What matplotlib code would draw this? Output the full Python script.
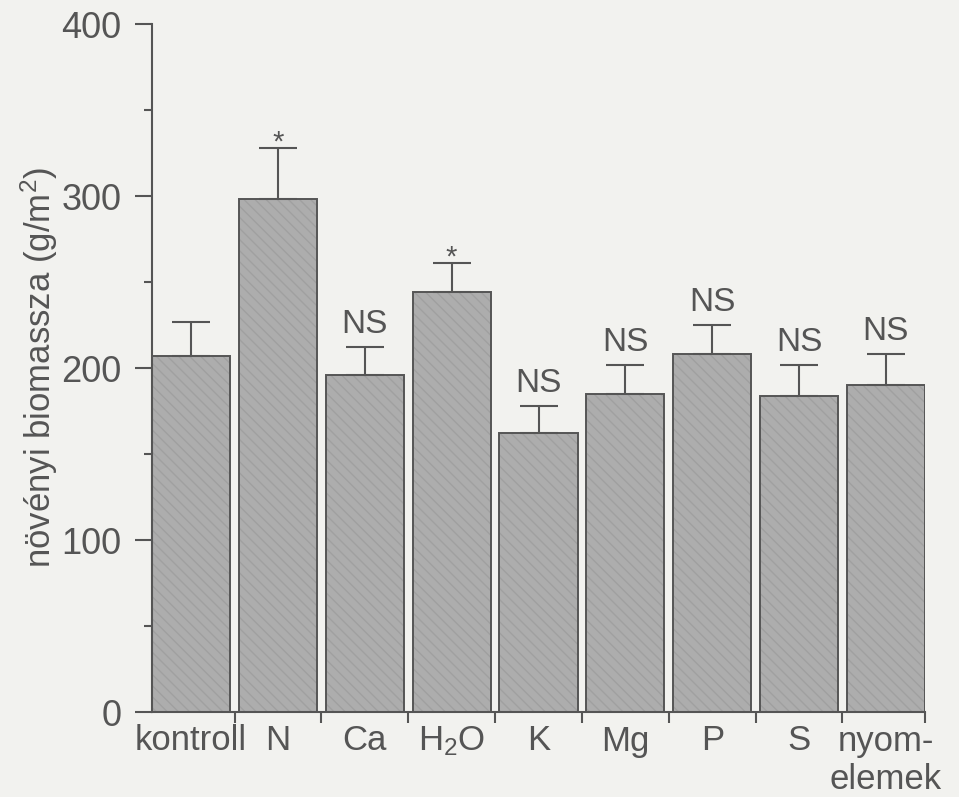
import numpy as np
import matplotlib
matplotlib.use("Agg")
import matplotlib.pyplot as plt
from matplotlib.ticker import MultipleLocator

plt.rcParams['font.family'] = ['Liberation Sans', 'DejaVu Sans']
plt.rcParams['mathtext.fontset'] = 'custom'
plt.rcParams['mathtext.rm'] = 'Liberation Sans'
plt.rcParams['mathtext.it'] = 'Liberation Sans:italic'

#########################
  # DATA
#########################

categories = ['kontroll', 'N', 'Ca', 'H$_2$O', 'K', 'Mg', 'P', 'S', 'nyom-\nelemek']
biomass = [207, 298, 196, 244, 162, 185, 208, 184, 190]
errors = [20, 30, 16, 17, 16, 17, 17, 18, 18]
marks = ['', '*', 'NS', '*', 'NS', 'NS', 'NS', 'NS', 'NS']

ink = '#555555'
paper = '#f2f2ef'

#########################
  # PLOT
#########################

fig = plt.figure(figsize=(9.59, 7.97), dpi=100, facecolor=paper)
ax = fig.add_axes([152/959, 1-712/797, 773/959, 688/797])
ax.set_facecolor(paper)

x = np.arange(len(categories))

# hatched fill first, outline on top
ax.bar(x, biomass, width=0.9, color='#adadad', edgecolor='#a0a0a0',
       linewidth=0, hatch='\\\\\\', zorder=2)
ax.bar(x, biomass, width=0.9, fill=False, edgecolor=ink, linewidth=1.4, zorder=3)

ax.errorbar(x, biomass, yerr=[np.zeros(len(errors)), errors], fmt='none',
            ecolor=ink, elinewidth=1.5, capsize=14, capthick=1.5, zorder=3)

for xi, v, e, m in zip(x, biomass, errors, marks):
    if m == '*':
        ax.annotate(m, (xi, v + e), xytext=(0, -6), textcoords='offset points',
                    ha='center', va='bottom', fontsize=21, color=ink)
    elif m:
        ax.annotate(m, (xi, v + e), xytext=(0, 5), textcoords='offset points',
                    ha='center', va='bottom', fontsize=24, color=ink)

ax.set_xlim(-0.45, len(categories) - 0.55)
ax.set_ylim(0, 400)

ax.spines['top'].set_visible(False)
ax.spines['right'].set_visible(False)
for s in ['left', 'bottom']:
    ax.spines[s].set_color(ink)
    ax.spines[s].set_linewidth(1.5)

# category boundaries as ticks, names centred under bars
ax.set_xticks(list(x[:-1] + 0.5) + [len(categories) - 0.55])
ax.set_xticklabels([])
ax.set_xticks(x, minor=True)
ax.set_xticklabels(categories, minor=True, fontsize=25, color=ink)
ax.tick_params(axis='x', which='major', length=8, width=1.5, color=ink, direction='out')
ax.tick_params(axis='x', which='minor', length=0, pad=9)

ax.yaxis.set_major_locator(MultipleLocator(100))
ax.yaxis.set_minor_locator(MultipleLocator(50))
ax.tick_params(axis='y', which='major', length=12, width=1.5, color=ink,
               labelsize=26, labelcolor=ink, pad=10)
ax.tick_params(axis='y', which='minor', length=6, width=1.5, color=ink)

ax.set_ylabel('növényi biomassza (g/m$^2$)', fontsize=25, color=ink, labelpad=1)

fig.savefig('out.png', dpi=100, facecolor=paper)
